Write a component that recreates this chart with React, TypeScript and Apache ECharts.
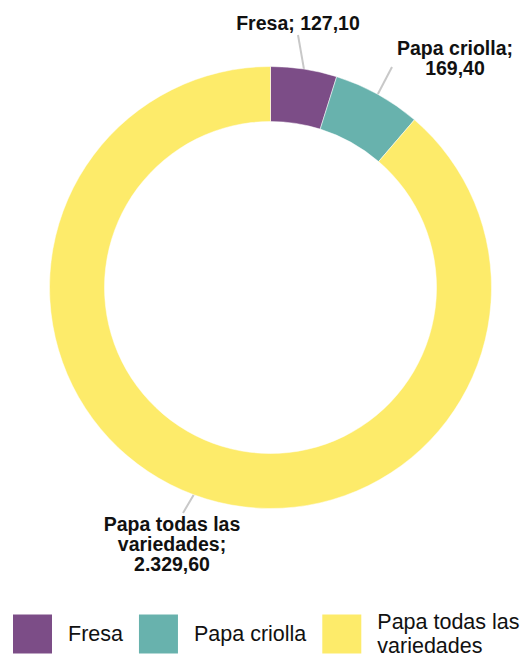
import React, { useEffect, useRef } from "react";
import * as echarts from "echarts";

const categories = ["Fresa", "Papa criolla", "Papa todas las variedades"];
const values = [127.1, 169.4, 2329.6];
const colors = ["#7c4d87", "#68b2ad", "#fdeb6a"];

// label placement (centre of each label) and end point of its leader line
const labelSpots = [
  { x: 298, y: 23, lx: 298, ly: 35 },
  { x: 455, y: 58, lx: 392, ly: 67 },
  { x: 172, y: 544, lx: 183, ly: 513 },
];

function fmtEs(v: number): string {
  const fixed = v.toFixed(2);
  const [intPart, dec] = fixed.split(".");
  const grouped = intPart.replace(/\B(?=(\d{3})+(?!\d))/g, ".");
  return grouped + "," + dec;
}

function wrap(text: string, max: number): string {
  const words = text.split(" ");
  const lines: string[] = [];
  let cur = "";
  for (const w of words) {
    if (cur === "") cur = w;
    else if ((cur + " " + w).length <= max) cur = cur + " " + w;
    else {
      lines.push(cur);
      cur = w;
    }
  }
  if (cur) lines.push(cur);
  return lines.join("\n");
}

export default function App() {
  const ref = useRef<HTMLDivElement>(null);
  useEffect(() => {
    document.body.style.margin = "0";
    if (!ref.current) return;
    const chart = echarts.init(ref.current, undefined, { renderer: "svg" });
    chart.setOption({
      animation: false,
      backgroundColor: "#ffffff",
      textStyle: { fontFamily: "Liberation Sans, Arial, sans-serif" },
      legend: {
        left: 11,
        top: 610,
        padding: 0,
        orient: "horizontal",
        itemWidth: 41,
        itemHeight: 41,
        itemGap: 14,
        icon: "rect",
        formatter: (name: string) => wrap(name, 14),
        textStyle: {
          fontSize: 21.5,
          lineHeight: 24,
          color: "#111111",
          fontFamily: "Liberation Sans, Arial, sans-serif",
          padding: [0, 0, 0, 10],
        },
        data: categories,
      },
      series: [
        {
          type: "pie",
          center: [270.5, 287.5],
          radius: [166, 221],
          startAngle: 90,
          clockwise: true,
          avoidLabelOverlap: false,
          itemStyle: { borderColor: "#ffffff", borderWidth: 0.5 },
          label: {
            show: true,
            position: "outside",
            formatter: (p: any) => wrap(p.name + "; " + fmtEs(p.value), 14),
            fontSize: 19.5,
            lineHeight: 20,
            fontWeight: "bold",
            color: "#111111",
            textBorderColor: "#ffffff",
            textBorderWidth: 3,
            align: "center",
            fontFamily: "Liberation Sans, Arial, sans-serif",
          },
          labelLine: {
            show: true,
            length: 10,
            length2: 0,
            lineStyle: { color: "#c8c8c8", width: 2 },
          },
          labelLayout: (params: any) => {
            const s = labelSpots[params.dataIndex];
            const p0 = params.labelLinePoints ? params.labelLinePoints[0] : [s.lx, s.ly];
            return {
              x: s.x,
              y: s.y,
              align: "center",
              verticalAlign: "middle",
              labelLinePoints: [p0, [s.lx, s.ly], [s.lx, s.ly]],
            };
          },
          data: categories.map((c, i) => ({
            name: c,
            value: values[i],
            itemStyle: { color: colors[i] },
          })),
        },
      ],
    });
    return () => chart.dispose();
  }, []);
  return <div ref={ref} style={{ width: 532, height: 654 }} />;
}
